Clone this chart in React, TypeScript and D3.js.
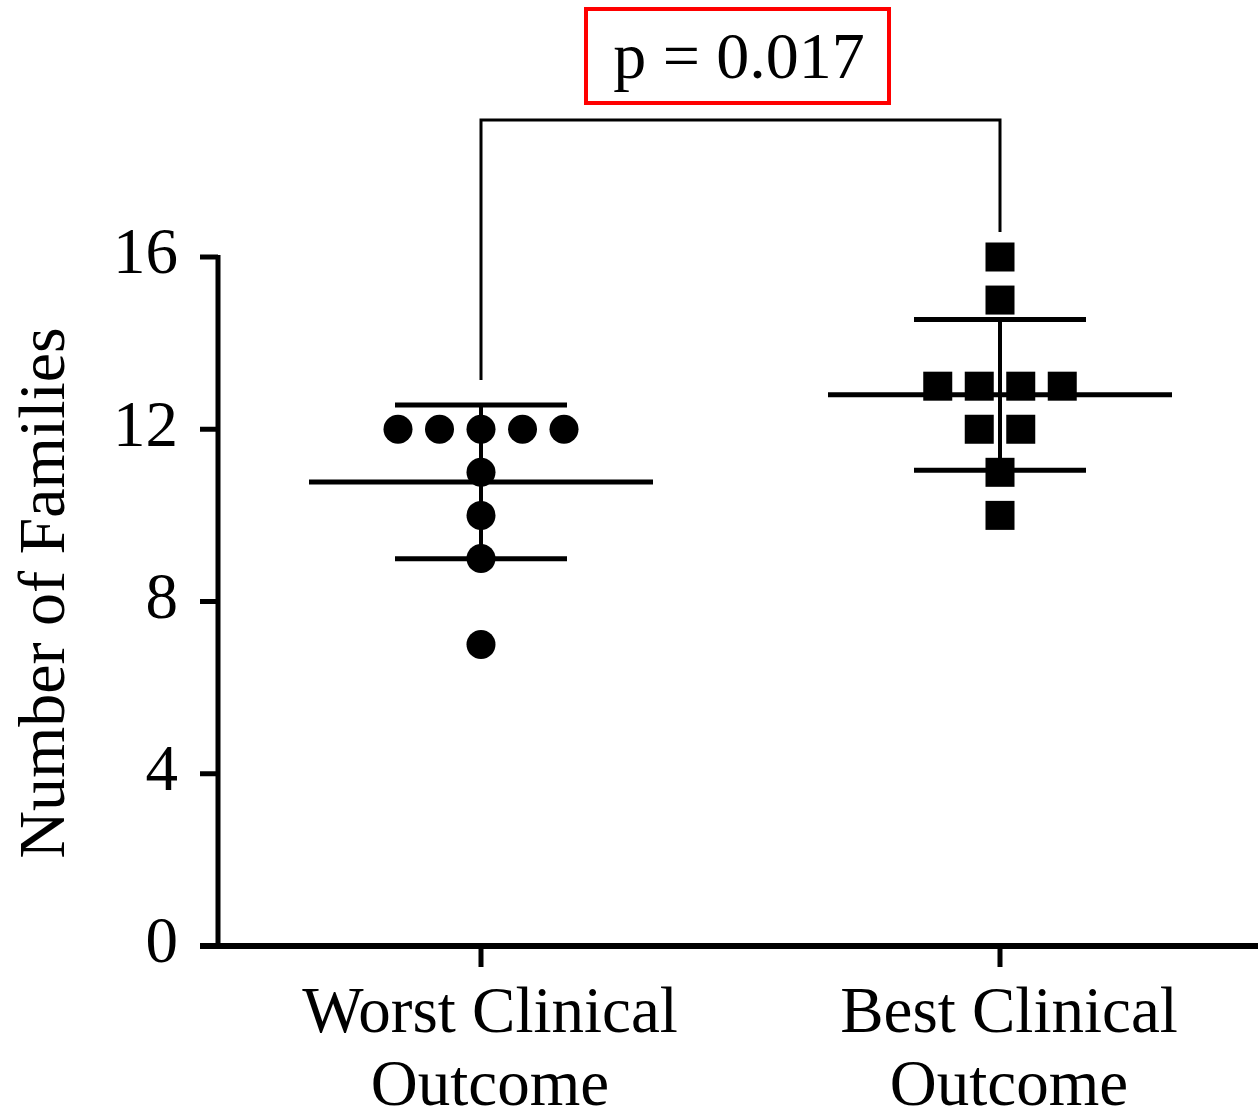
import React from "react";
import * as d3 from "d3";

const categories = ["Worst Clinical Outcome", "Best Clinical Outcome"];
const categoryLines = [["Worst Clinical", "Outcome"], ["Best Clinical", "Outcome"]];
const worstValues = [12, 12, 12, 12, 12, 11, 10, 9, 7];
const bestValues = [16, 15, 13, 13, 13, 13, 12, 12, 11, 10];
const yTicks = [0, 4, 8, 12, 16];
const pLabel = "p = 0.017";
const yTitle = "Number of Families";

const W = 1258;
const H = 1113;
const FONT = "'Liberation Serif', 'Times New Roman', serif";

export default function App() {
  const y = d3.scaleLinear().domain([0, 16]).range([946, 257]);
  const x = d3.scalePoint<string>().domain(categories).range([481, 1000]);
  const spacing = 41.5;
  const series = [worstValues, bestValues];

  const groups = series.map((vals, gi) => {
    const cx = x(categories[gi]) as number;
    const counts = d3.rollup(vals, (v) => v.length, (d) => d);
    const seen = new Map<number, number>();
    const pts = vals.map((v) => {
      const n = counts.get(v) as number;
      const k = seen.get(v) || 0;
      seen.set(v, k + 1);
      return { v, px: cx + (k - (n - 1) / 2) * spacing, py: y(v) };
    });
    const mean = d3.mean(vals) as number;
    const sd = d3.deviation(vals) as number;
    return { cx, pts, mean, sd };
  });

  const xAxisY = y(0);
  const bracketY = 120;

  return (
    <svg width={W} height={H} style={{ position: "absolute", left: 0, top: 0, background: "#fff" }}>
      <rect x={0} y={0} width={W} height={H} fill="#fff" />
      {/* y axis */}
      <line x1={218} x2={218} y1={y(16) - 2} y2={xAxisY} stroke="#000" strokeWidth={5} />
      {yTicks.map((t) => (
        <g key={t}>
          <line x1={200} x2={218} y1={y(t)} y2={y(t)} stroke="#000" strokeWidth={5} />
          <text x={178} y={y(t)} dy="0.25em" textAnchor="end" fontFamily={FONT} fontSize={65}>
            {t}
          </text>
        </g>
      ))}
      {/* x axis */}
      <line x1={200} x2={W} y1={xAxisY} y2={xAxisY} stroke="#000" strokeWidth={6} />
      {categories.map((c, i) => (
        <g key={c}>
          <line x1={x(c)} x2={x(c)} y1={xAxisY} y2={967} stroke="#000" strokeWidth={5} />
          {categoryLines[i].map((ln, j) => (
            <text key={j} x={(x(c) as number) + 9} y={1032 + j * 73} textAnchor="middle" fontFamily={FONT} fontSize={65}>
              {ln}
            </text>
          ))}
        </g>
      ))}
      {/* y title */}
      <text transform={`translate(64,593) rotate(-90)`} textAnchor="middle" fontFamily={FONT} fontSize={66}>
        {yTitle}
      </text>
      {/* stats */}
      {groups.map((g, gi) => (
        <g key={gi}>
          <line x1={g.cx} x2={g.cx} y1={y(g.mean + g.sd)} y2={y(g.mean - g.sd)} stroke="#000" strokeWidth={4} />
          <line x1={g.cx - 172} x2={g.cx + 172} y1={y(g.mean)} y2={y(g.mean)} stroke="#000" strokeWidth={5} />
          <line x1={g.cx - 86} x2={g.cx + 86} y1={y(g.mean + g.sd)} y2={y(g.mean + g.sd)} stroke="#000" strokeWidth={5} />
          <line x1={g.cx - 86} x2={g.cx + 86} y1={y(g.mean - g.sd)} y2={y(g.mean - g.sd)} stroke="#000" strokeWidth={5} />
          {g.pts.map((p, i) =>
            gi === 0 ? (
              <circle key={i} cx={p.px} cy={p.py} r={14.5} fill="#000" />
            ) : (
              <rect key={i} x={p.px - 14.5} y={p.py - 14.5} width={29} height={29} fill="#000" />
            )
          )}
        </g>
      ))}
      {/* bracket */}
      <path
        d={`M${groups[0].cx},380 V${bracketY} H${groups[1].cx} V232`}
        fill="none"
        stroke="#000"
        strokeWidth={3}
      />
      {/* p-value box */}
      <rect x={586} y={9} width={303} height={94} fill="none" stroke="#ff0000" strokeWidth={4} />
      <text x={739} y={78} textAnchor="middle" fontFamily={FONT} fontSize={66}>
        {pLabel}
      </text>
    </svg>
  );
}
